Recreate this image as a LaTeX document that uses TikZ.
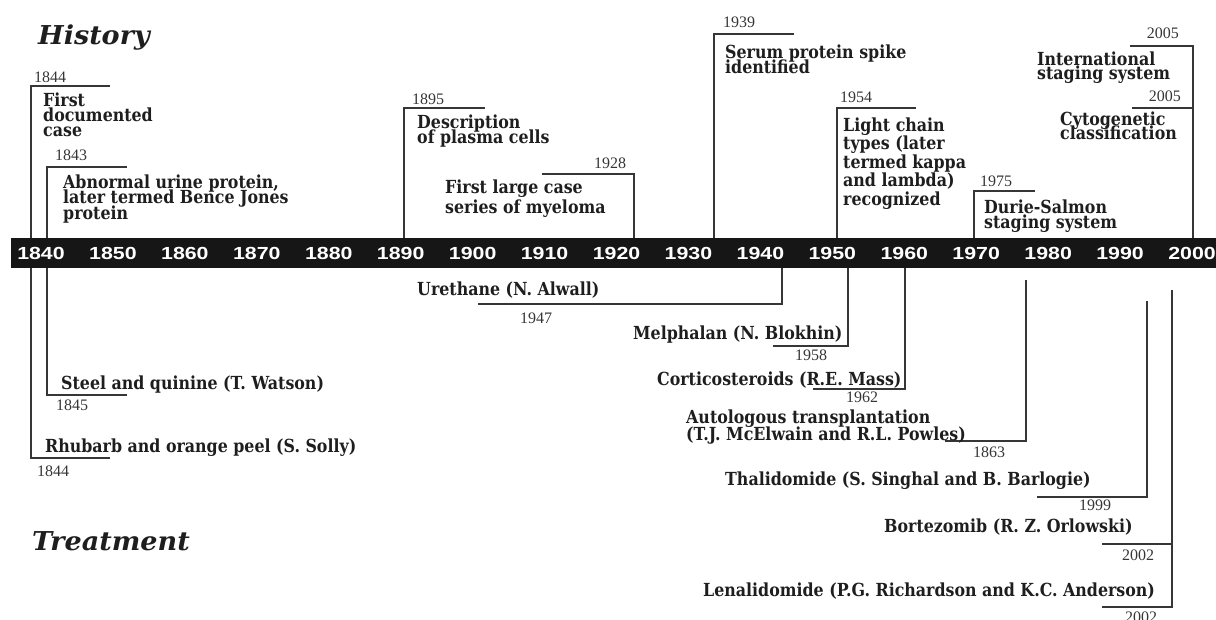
\documentclass[tikz,border=0pt]{standalone}
\usepackage{fontspec}
\setmainfont{Liberation Serif}
\newfontfamily\slab{DejaVu Serif}[FakeStretch=0.88]
\newfontfamily\slabit{DejaVu Serif}[FakeStretch=1.04]
\newfontfamily\barfont{Liberation Sans}[FakeStretch=1.22]
\setlength{\lineskiplimit}{-50pt}
\setlength{\lineskip}{0pt}
\definecolor{linec}{HTML}{363636}
\definecolor{txtc}{HTML}{1E1E1E}
\definecolor{barc}{HTML}{161616}
\tikzset{
  br/.style={draw=linec, line width=2.9pt, line join=miter},
  yl/.style={font=\fontsize{16}{16}\selectfont, text=linec, inner sep=0, anchor=base west},
  ylr/.style={yl, anchor=base east},
  ev/.style={font=\slab\bfseries\fontsize{18}{18}\selectfont, text=txtc, inner sep=0, anchor=base west},
  evm/.style={font=\slab\bfseries\fontsize{18}{#1}\selectfont, text=txtc, inner sep=0, anchor=north west, align=left},
  title/.style={font=\slabit\bfseries\itshape\fontsize{26}{26}\selectfont, text=txtc, inner sep=0, anchor=base west},
  byear/.style={font=\barfont\bfseries\fontsize{17.5}{17.5}\selectfont, text=white, inner sep=0},
}
\begin{document}
\begin{tikzpicture}[x=1pt,y=-1pt]
\useasboundingbox (0,0) rectangle (1216,619);
% titles
\node[title] (tHist) at (38,44) {History};
\node[title] (tTreat) at (32,550) {Treatment};
% timeline bar
\node[fill=barc, draw=none, inner sep=0, anchor=north west, minimum width=1205pt, minimum height=30pt] (bar) at (11,238) {};
\foreach \yr [count=\i from 0] in {1840,1850,...,2000}
  \node[byear] (b\yr) at ({41+\i*71.94},253.5) {\yr};
% ---------- History ----------
\coordinate (hA0) at (31,238);  \coordinate (hA1) at (110,86);
\coordinate (hB0) at (47,238);  \coordinate (hB1) at (127,167);
\coordinate (hC0) at (404,238); \coordinate (hC1) at (485,108);
\coordinate (hD0) at (634,238); \coordinate (hD1) at (542,174);
\coordinate (hE0) at (714,238); \coordinate (hE1) at (794,34);
\coordinate (hF0) at (837,238); \coordinate (hF1) at (916,108);
\coordinate (hG0) at (974,238); \coordinate (hG1) at (1035,191);
\coordinate (hH0) at (1193,238); \coordinate (hH1) at (1130,46);
\coordinate (hI0) at (1193,108); \coordinate (hI1) at (1132,108);
\draw[br] (hA0) |- (hA1);
\draw[br] (hB0) |- (hB1);
\draw[br] (hC0) |- (hC1);
\draw[br] (hD0) |- (hD1);
\draw[br] (hE0) |- (hE1);
\draw[br] (hF0) |- (hF1);
\draw[br] (hG0) |- (hG1);
\draw[br] (hH0) |- (hH1);
\draw[br] (hI0) -- (hI1);
\node[yl] (yA) at (34,82) {1844};
\node[yl] (yB) at (55,160) {1843};
\node[yl] (yC) at (412,104) {1895};
\node[yl] (yD) at (594,168) {1928};
\node[yl] (yE) at (723,27) {1939};
\node[yl] (yF) at (840,102) {1954};
\node[yl] (yG) at (980,186) {1975};
\node[ylr] (yH) at (1179,38) {2005};
\node[ylr] (yI) at (1181,101) {2005};
\node[evm=15] (eA) at (43,92.5) {First\\documented\\case};
\node[evm=15.5] (eB) at (63,174.5) {Abnormal urine protein,\\later termed Bence Jones\\protein};
\node[evm=15] (eC) at (417,114.5) {Description\\of plasma cells};
\node[evm=20] (eD) at (445,179.5) {First large case\\series of myeloma};
\node[evm=15] (eE) at (725,44.5) {Serum protein spike\\identified};
\node[evm=18.5] (eF) at (843,117.5) {Light chain\\types (later\\termed kappa\\and lambda)\\recognized};
\node[evm=15.5] (eG) at (984,199.5) {Durie-Salmon\\staging system};
\node[evm=14] (eH) at (1037,51.5) {International\\staging system};
\node[evm=14] (eI) at (1060,111.5) {Cytogenetic\\classification};
% ---------- Treatment ----------
\coordinate (tR0) at (31,268);  \coordinate (tR1) at (110,458);
\coordinate (tS0) at (47,268);  \coordinate (tS1) at (127,395);
\coordinate (tU0) at (782,268); \coordinate (tU1) at (478,304);
\coordinate (tM0) at (848,268); \coordinate (tM1) at (773,346);
\coordinate (tC0) at (905,268); \coordinate (tC1) at (813,389);
\coordinate (tA0) at (1026,280); \coordinate (tA1) at (945,441);
\coordinate (tT0) at (1147,301); \coordinate (tT1) at (1037,497);
\coordinate (tB0) at (1172,544); \coordinate (tB1) at (1102,544);
\coordinate (tL0) at (1172,290); \coordinate (tL1) at (1102,607);
\draw[br] (tR0) |- (tR1);
\draw[br] (tS0) |- (tS1);
\draw[br] (tU0) |- (tU1);
\draw[br] (tM0) |- (tM1);
\draw[br] (tC0) |- (tC1);
\draw[br] (tA0) |- (tA1);
\draw[br] (tT0) |- (tT1);
\draw[br] (tB0) -- (tB1);
\draw[br] (tL0) |- (tL1);
\node[yl] (zS) at (56,410) {1845};
\node[yl] (zR) at (37,476) {1844};
\node[yl] (zU) at (520,323) {1947};
\node[yl] (zM) at (795,360) {1958};
\node[yl] (zC) at (846,402) {1962};
\node[yl] (zA) at (973,457) {1863};
\node[yl] (zT) at (1079,510) {1999};
\node[yl] (zB) at (1122,560) {2002};
\node[yl] (zL) at (1125,622) {2002};
\node[ev] (fS) at (61,389) {Steel and quinine (T. Watson)};
\node[ev] (fR) at (45,452) {Rhubarb and orange peel (S. Solly)};
\node[ev] (fU) at (417,295) {Urethane (N. Alwall)};
\node[ev] (fM) at (633,339) {Melphalan (N. Blokhin)};
\node[ev] (fC) at (657,385) {Corticosteroids (R.E. Mass)};
\node[evm=17] (fA) at (686,409.5) {Autologous transplantation\\(T.J. McElwain and R.L. Powles)};
\node[ev] (fT) at (725,485) {Thalidomide (S. Singhal and B. Barlogie)};
\node[ev] (fB) at (884,532) {Bortezomib (R. Z. Orlowski)};
\node[ev] (fL) at (703,596) {Lenalidomide (P.G. Richardson and K.C. Anderson)};
\end{tikzpicture}
\end{document}
